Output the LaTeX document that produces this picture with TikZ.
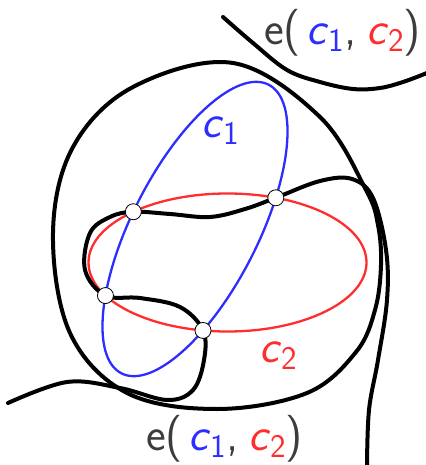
\documentclass[tikz,border=0pt]{standalone}
\usepackage{fontspec}
\usepackage{xcolor}
\definecolor{cblue}{RGB}{45,45,255}
\definecolor{cred}{RGB}{255,45,45}
\definecolor{egray}{RGB}{60,60,60}
\usetikzlibrary{intersections}
\newcommand{\cvar}[2]{\textcolor{#1}{\textit{c}\raisebox{-7pt}{\fontsize{33}{35}\selectfont #2}}}
\newcommand{\ecc}{{\color{egray}e(\hspace{0.12em}}\cvar{cblue}{1}{\color{egray},\hspace{0.2em}}\cvar{cred}{2}{\color{egray})}}

\begin{document}
\begin{tikzpicture}[x=1pt, y=1pt,
    curve/.style={line width=4pt, line cap=round, line join=round},
    ring/.style={line width=2.3pt},
    dot/.style={circle, draw=black, line width=0.8pt, fill=white,
                inner sep=0pt, minimum size=16pt},
    lbl/.style={font=\sffamily\fontsize{47}{56}\selectfont, inner sep=0pt}
  ]
    \useasboundingbox (0,0) rectangle (425,-465);

    % Ellipses c1 and c2
    \draw[ring, cblue, name path=c1path, rotate around={63:(195,-229)}]
      (195,-229) ellipse[x radius=162, y radius=63];
    \draw[ring, cred, name path=c2path]
      (227.5,-262.5) ellipse[x radius=139, y radius=69];
    \path[name intersections={of=c1path and c2path, sort by=c1path, by={pa,pb,pc,pd}}];

    % Outer loop
    \draw[curve] plot[smooth cycle, tension=0.6] coordinates {
      (233,-63) (133,-87) (73,-147) (53,-233) (70,-333) (127,-393) (217,-409)
      (307,-393) (356,-352) (375,-310) (381,-265) (378,-225) (366,-190) (320,-117) };

    % Curve e(c1,c2) through the four points
    \draw[curve] plot[smooth, tension=0.6] coordinates {
      (8,-403) (67,-382) (120,-388) (167,-400) (193,-390) (204,-360) (pc)
      (180,-307) (140,-298) (pb) (85,-270) (90,-233) (110,-217) (pa)
      (170,-214) (210,-217) (245,-209) (pd) (320,-181) (352,-179) (373,-198)
      (386,-250) (387,-300) (378,-360) (369,-410) (367,-467) };

    % Upper curve
    \draw[curve] plot[smooth, tension=0.6] coordinates {
      (223,-17) (253,-43) (287,-70) (320,-82) (353,-89) (380,-88) (403,-82) (427,-73) };

    % Intersection points
    \node[dot] (p1) at (pa) {};
    \node[dot] (p2) at (pb) {};
    \node[dot] (p3) at (pc) {};
    \node[dot] (p4) at (pd) {};

    % Labels
    \node[lbl, anchor=base west] (etop) at (264,-45) {\ecc};
    \node[lbl, anchor=base west] (ebot) at (146,-450) {\ecc};
    \node[lbl, anchor=base west] (lc1) at (201,-138) {\cvar{cblue}{1}};
    \node[lbl, anchor=base west] (lc2) at (259,-362) {\cvar{cred}{2}};
  \end{tikzpicture}
\end{document}
